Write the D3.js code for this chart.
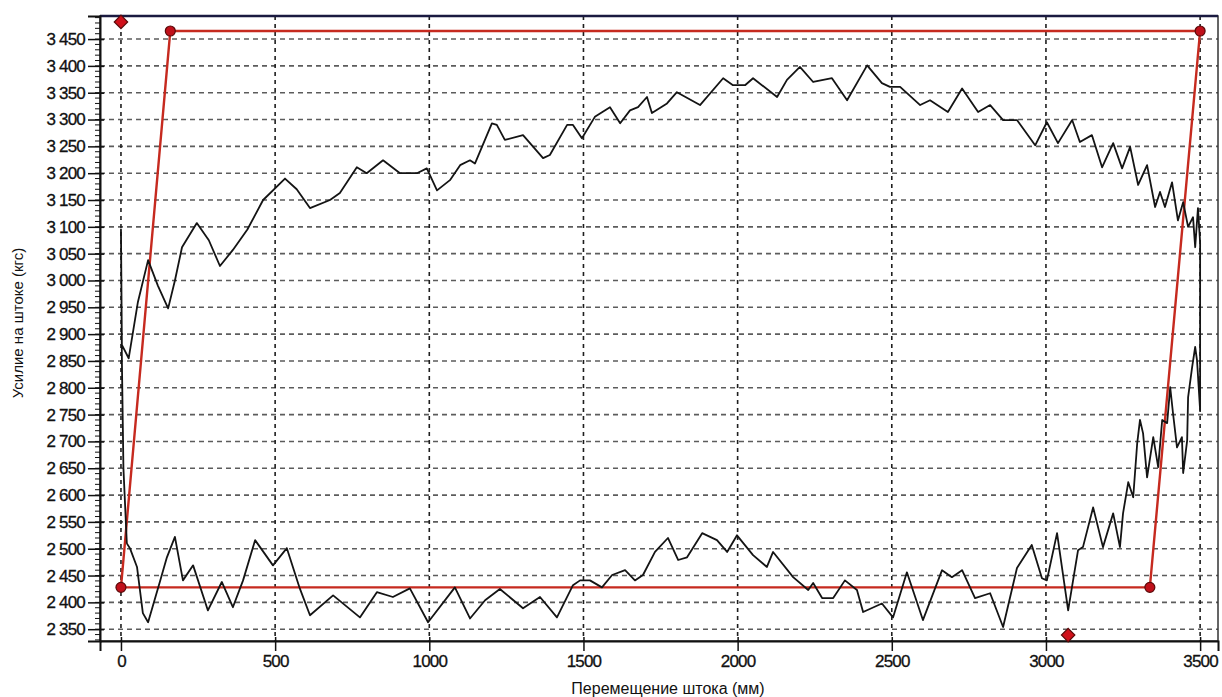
<!DOCTYPE html>
<html>
<head>
<meta charset="utf-8">
<script src="https://cdn.jsdelivr.net/npm/d3@7"></script>
<style>
  body { margin: 0; background: #fff; }
  svg { display: block; font-family: "Liberation Sans", Arial, sans-serif; }
</style>
</head>
<body>
<svg id="chart" width="1222" height="697"></svg>
<script>
// measured dynamogram, upstroke (left -> right)
const upstroke = [
  [19,2510],[8,2650],[3,2850],[0,3095],[3,2880],[25,2855],[55,2960],[88,3038],[120,2990],[153,2948],
  [175,3000],[198,3062],[246,3107],[285,3075],[321,3027],[363,3057],[410,3095],[461,3150],[532,3190],
  [570,3170],[613,3135],[678,3150],[710,3163],[765,3211],[797,3200],[850,3224],[905,3200],[960,3200],
  [992,3209],[1025,3168],[1067,3187],[1100,3215],[1132,3224],[1148,3218],[1203,3293],[1219,3290],
  [1245,3262],[1304,3271],[1369,3228],[1391,3234],[1447,3290],[1466,3290],[1495,3265],[1537,3305],
  [1586,3323],[1619,3293],[1651,3317],[1677,3323],[1706,3342],[1722,3312],[1771,3330],[1803,3351],
  [1878,3327],[1953,3377],[1985,3364],[2024,3364],[2050,3377],[2128,3342],[2160,3374],[2202,3398],
  [2245,3370],[2306,3377],[2355,3336],[2420,3401],[2468,3368],[2494,3361],[2527,3361],[2592,3327],
  [2624,3336],[2682,3314],[2728,3358],[2780,3314],[2819,3327],[2861,3299],[2906,3299],[2965,3252],
  [3003,3295],[3039,3256],[3085,3299],[3110,3258],[3149,3271],[3182,3211],[3218,3256],[3247,3209],
  [3273,3249],[3299,3178],[3328,3215],[3354,3137],[3370,3165],[3386,3137],[3409,3183],[3428,3112],
  [3445,3146],[3461,3100],[3477,3118],[3484,3062],[3493,3135],[3500,3071]
];

// downstroke (right -> left)
const downstroke = [
  [3500,2758],[3490,2851],[3484,2876],[3474,2838],[3461,2782],[3458,2702],[3445,2641],[3441,2708],
  [3425,2689],[3412,2753],[3403,2801],[3393,2734],[3377,2740],[3364,2652],[3348,2708],[3328,2633],
  [3315,2715],[3305,2740],[3296,2697],[3283,2596],[3267,2624],[3250,2566],[3240,2503],[3218,2566],
  [3185,2503],[3153,2577],[3120,2503],[3104,2497],[3072,2385],[3036,2529],[3003,2441],[2987,2445],
  [2954,2507],[2906,2464],[2861,2354],[2819,2417],[2770,2408],[2728,2460],[2695,2447],[2663,2460],
  [2601,2367],[2549,2456],[2504,2372],[2468,2398],[2407,2382],[2387,2423],[2348,2441],[2310,2408],
  [2274,2408],[2245,2436],[2229,2423],[2180,2447],[2115,2494],[2095,2466],[2050,2488],[1998,2525],
  [1966,2494],[1933,2516],[1885,2529],[1836,2484],[1807,2479],[1774,2520],[1732,2494],[1693,2451],
  [1667,2441],[1635,2460],[1593,2451],[1560,2428],[1521,2441],[1489,2441],[1466,2432],[1414,2372],
  [1359,2410],[1304,2389],[1229,2425],[1181,2404],[1132,2370],[1083,2428],[996,2363],[937,2426],
  [882,2410],[830,2419],[775,2372],[688,2413],[613,2376],[580,2426],[538,2501],[493,2469],[435,2516],
  [396,2441],[363,2391],[327,2438],[282,2385],[234,2469],[201,2441],[175,2522],[149,2484],[126,2438],
  [88,2363],[71,2380],[52,2466],[29,2501],[19,2510]
];

// theoretical dynamogram (corners)
const theory = [[0,2428],[160,3465],[3500,3465],[3337,2428],[0,2428]];
const theoryPoints = [[0,2428],[160,3465],[3500,3465],[3337,2428]];
// diamond markers
const markers = [[0,3482],[3072,2339]];

const xTicks = [0,500,1000,1500,2000,2500,3000,3500];
const yTicks = d3.range(2350, 3451, 50);
const yMinor = d3.range(2330, 3491, 10);

const xTitle = "Перемещение штока (мм)";
const yTitle = "Усилие на штоке (кгс)";

const svg = d3.select("#chart");
const plotL = 100, plotT = 16, plotR = 1218, plotB = 641;

const x = d3.scaleLinear().domain([-68, 3558]).range([plotL, plotR]);
const y = d3.scaleLinear().domain([2328, 3493]).range([plotB, plotT]);

const loc = d3.formatLocale({decimal: ",", thousands: " ", grouping: [3], currency: ["", ""]});
const fmt = loc.format(",");

// horizontal grid
svg.append("g")
  .selectAll("line")
  .data(yTicks)
  .join("line")
  .attr("x1", plotL).attr("x2", plotR)
  .attr("y1", d => y(d)).attr("y2", d => y(d))
  .attr("stroke", "#5c5c5c")
  .attr("stroke-width", 1.6)
  .attr("stroke-dasharray", "5,4");

// vertical grid
svg.append("g")
  .selectAll("line")
  .data(xTicks)
  .join("line")
  .attr("x1", d => x(d)).attr("x2", d => x(d))
  .attr("y1", plotT).attr("y2", plotB)
  .attr("stroke", "#1e1e1e")
  .attr("stroke-width", 1.6)
  .attr("stroke-dasharray", "4,4");

// frame
svg.append("rect")
  .attr("x", plotL).attr("y", plotT)
  .attr("width", plotR - plotL).attr("height", plotB - plotT)
  .attr("fill", "none")
  .attr("stroke", "#333")
  .attr("stroke-width", 1.5);
svg.append("line")
  .attr("x1", plotL).attr("x2", plotR).attr("y1", plotT).attr("y2", plotT)
  .attr("stroke", "#1a1a40").attr("stroke-width", 2.5);

// axes
const yAxis = svg.append("g").attr("transform", `translate(${plotL},0)`)
  .call(d3.axisLeft(y).tickValues(yTicks).tickFormat(fmt).tickSize(12).tickPadding(3));
yAxis.select(".domain").attr("stroke", "#111").attr("stroke-width", 2);
yAxis.selectAll(".tick line").attr("stroke", "#111").attr("stroke-width", 1.5).attr("x2", -12).attr("x1", 4);
yAxis.selectAll("text")
  .attr("font-size", 17)
  .attr("fill", "#111")
  .attr("stroke", "#111")
  .attr("stroke-width", 0.3)
  .attr("letter-spacing", "-0.8px");

svg.append("g")
  .selectAll("line")
  .data(yMinor)
  .join("line")
  .attr("x1", plotL - 5).attr("x2", plotL)
  .attr("y1", d => y(d)).attr("y2", d => y(d))
  .attr("stroke", "#111")
  .attr("stroke-width", 1);

const xAxis = svg.append("g").attr("transform", `translate(0,${plotB})`)
  .call(d3.axisBottom(x).tickValues(xTicks).tickFormat(d3.format("d")).tickSize(10).tickPadding(4));
xAxis.select(".domain").attr("stroke", "#111").attr("stroke-width", 2);
xAxis.selectAll(".tick line").attr("stroke", "#111").attr("stroke-width", 1.5).attr("y1", -4);
xAxis.selectAll("text")
  .attr("font-size", 17)
  .attr("fill", "#111")
  .attr("stroke", "#111")
  .attr("stroke-width", 0.3)
  .attr("letter-spacing", "-0.8px");

// axis titles
svg.append("text")
  .attr("x", 668).attr("y", 694)
  .attr("text-anchor", "middle")
  .attr("font-size", 16)
  .attr("fill", "#111")
  .text(xTitle);

svg.append("text")
  .attr("transform", "translate(23,323) rotate(-90)")
  .attr("text-anchor", "middle")
  .attr("font-size", 15)
  .attr("fill", "#111")
  .text(yTitle);

const line = d3.line().x(d => x(d[0])).y(d => y(d[1]));

// theoretical polygon
svg.append("path")
  .datum(theory)
  .attr("d", line)
  .attr("fill", "none")
  .attr("stroke", "#c62a1f")
  .attr("stroke-width", 2.4);

// measured curve
svg.append("path")
  .datum(upstroke.concat(downstroke))
  .attr("d", line)
  .attr("fill", "none")
  .attr("stroke", "#141414")
  .attr("stroke-width", 1.8)
  .attr("stroke-linejoin", "round");

// corner points
svg.append("g")
  .selectAll("circle")
  .data(theoryPoints)
  .join("circle")
  .attr("cx", d => x(d[0])).attr("cy", d => y(d[1]))
  .attr("r", 5)
  .attr("fill", "#c0101a")
  .attr("stroke", "#5a0a0a")
  .attr("stroke-width", 1.2);

// diamond markers
svg.append("g")
  .selectAll("path")
  .data(markers)
  .join("path")
  .attr("transform", d => `translate(${x(d[0])},${y(d[1])}) rotate(45)`)
  .attr("d", d3.symbol(d3.symbolSquare, 90))
  .attr("fill", "#d0101a")
  .attr("stroke", "#5a0a0a")
  .attr("stroke-width", 1.2);
</script>
</body>
</html>
